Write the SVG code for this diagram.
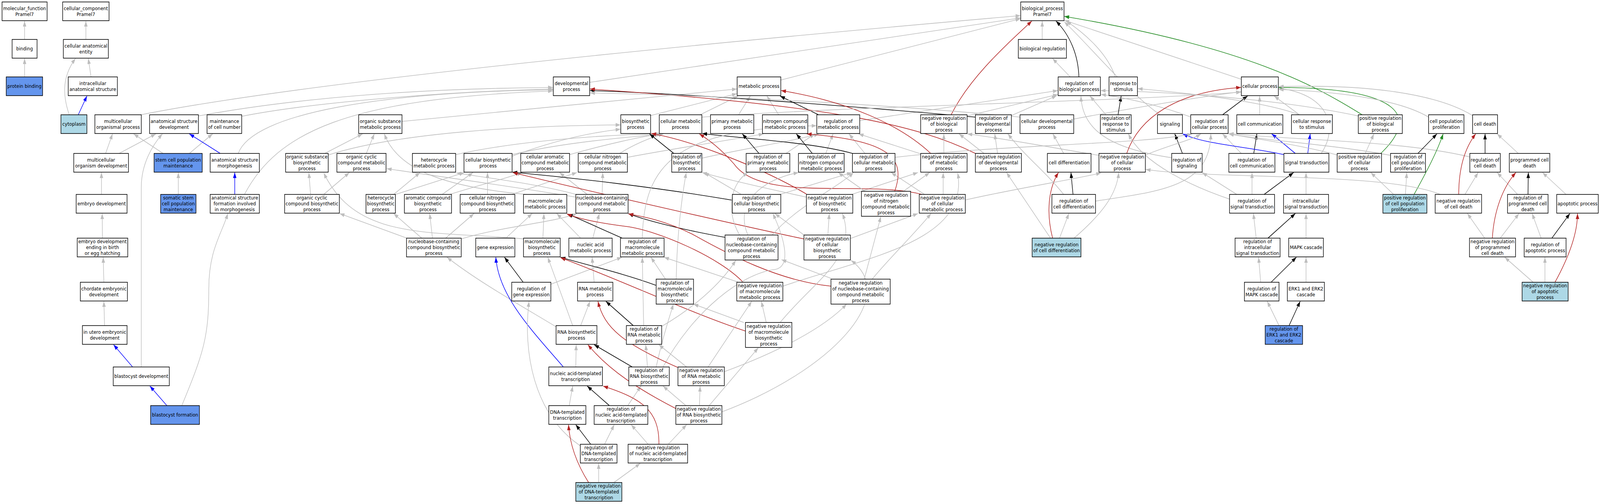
<svg xmlns="http://www.w3.org/2000/svg" width="4621" height="1291" viewBox="0 0 4621 1291" preserveAspectRatio="none">
<style>
svg{width:100vw;height:100vh;display:block}
.n rect{fill:#fff;stroke:#000;stroke-width:1.6}
.n.cb rect{fill:#6495ED}
.n.lb rect{fill:#ADD8E6}
.n text{font-family:"DejaVu Sans","Liberation Sans",sans-serif;font-size:13px;text-anchor:middle;fill:#000}
#edges path{fill:none;stroke-width:1.6}
.g{stroke:#BEBEBE;marker-end:url(#ag)}
.k{stroke:#000;marker-end:url(#ak)}
.r{stroke:#B22222;marker-end:url(#ar)}
.v{stroke:#228B22;marker-end:url(#av)}
.b{stroke:#0000FF;marker-end:url(#ab)}
</style>
<defs>
<marker id="ag" markerUnits="userSpaceOnUse" markerWidth="14" markerHeight="10" refX="14" refY="5" orient="auto"><path d="M0,0 L14,5 L0,10 z" fill="#BEBEBE"/></marker>
<marker id="ak" markerUnits="userSpaceOnUse" markerWidth="14" markerHeight="10" refX="14" refY="5" orient="auto"><path d="M0,0 L14,5 L0,10 z" fill="#000"/></marker>
<marker id="ar" markerUnits="userSpaceOnUse" markerWidth="14" markerHeight="10" refX="14" refY="5" orient="auto"><path d="M0,0 L14,5 L0,10 z" fill="#B22222"/></marker>
<marker id="av" markerUnits="userSpaceOnUse" markerWidth="14" markerHeight="10" refX="14" refY="5" orient="auto"><path d="M0,0 L14,5 L0,10 z" fill="#228B22"/></marker>
<marker id="ab" markerUnits="userSpaceOnUse" markerWidth="14" markerHeight="10" refX="14" refY="5" orient="auto"><path d="M0,0 L14,5 L0,10 z" fill="#0000FF"/></marker>
</defs>
<rect width="4621" height="1291" fill="#fff"/>
<g id="edges">
<path class="g" d="M71 101 L71 54"/>
<path class="g" d="M71 197 L71 150"/>
<path class="g" d="M248 101 L248 54"/>
<path class="g" d="M263 197 L255 150"/>
<path class="g" d="M200 294 C183 250 176 200 218 150"/>
<path class="b" d="M226 294 L251 246"/>
<path class="g" d="M407 294 Q1000 190 2947 40"/>
<path class="g" d="M573 297 Q1000 228 1597 224"/>
<path class="g" d="M698 298 C900 262 1300 234 1597 228"/>
<path class="g" d="M688 393 C730 290 1100 236 1597 230"/>
<path class="g" d="M706 498 C800 340 1000 252 1597 233"/>
<path class="g" d="M305 393 L325 343"/>
<path class="g" d="M344 393 L450 343"/>
<path class="g" d="M471 393 L386 343"/>
<path class="g" d="M547 393 L614 343"/>
<path class="b" d="M636 393 L547 343"/>
<path class="g" d="M515 498 L515 442"/>
<path class="b" d="M678 498 L678 442"/>
<path class="g" d="M293 498 L293 442"/>
<path class="g" d="M296 610 L295 547"/>
<path class="g" d="M300 723 L298 659"/>
<path class="g" d="M302 834 L300 772"/>
<path class="b" d="M383 940 L328 883"/>
<path class="g" d="M408 940 L408 480 C408 420 440 372 469 343"/>
<path class="b" d="M482 1039 L433 989"/>
<path class="g" d="M525 1039 C590 900 603 860 603 740 C603 640 640 600 658 547"/>
<path class="g" d="M1703 211 L2947 46"/>
<path class="g" d="M2255 205 L2947 48"/>
<path class="g" d="M3010 101 L3010 54"/>
<path class="k" d="M3116 197 C3114 140 3090 90 3050 54"/>
<path class="g" d="M3091 197 L3040 150"/>
<path class="g" d="M3221 197 C3200 140 3140 90 3080 54"/>
<path class="g" d="M3585 203 L3074 52"/>
<path class="v" d="M3934 294 C3800 220 3600 120 3074 42"/>
<path class="r" d="M2747 294 C2800 200 2900 120 2980 54"/>
<path class="g" d="M3350 294 C3250 230 3150 120 3074 56"/>
<path class="g" d="M1161 311 L2128 228"/>
<path class="g" d="M1879 296 L2128 240"/>
<path class="g" d="M2022 294 L2132 246"/>
<path class="g" d="M2133 294 L2167 246"/>
<path class="g" d="M2249 294 L2215 246"/>
<path class="k" d="M2364 294 L2253 246"/>
<path class="g" d="M2484 309 L3055 232"/>
<path class="g" d="M2793 297 L3055 242"/>
<path class="k" d="M2817 300 C2500 275 2000 240 1704 232"/>
<path class="g" d="M2921 296 L3052 245"/>
<path class="r" d="M2817 393 C2650 320 2400 270 1704 228"/>
<path class="g" d="M2881 393 L2873 343"/>
<path class="g" d="M2842 393 L2770 343"/>
<path class="g" d="M2946 300 C2600 270 2100 245 1704 238"/>
<path class="g" d="M3101 305 C3250 280 3450 250 3584 235"/>
<path class="k" d="M3229 294 L3238 246"/>
<path class="g" d="M3194 294 L3148 246"/>
<path class="g" d="M3753 294 C3650 260 3450 240 3286 227"/>
<path class="g" d="M3753 294 L3680 246"/>
<path class="g" d="M3638 294 L3638 246"/>
<path class="k" d="M3531 294 L3603 246"/>
<path class="g" d="M3440 300 C3350 270 3250 250 3180 242"/>
<path class="k" d="M3415 393 L3393 343"/>
<path class="g" d="M3384 404 C3200 380 3125 330 3122 246"/>
<path class="k" d="M3621 393 L3630 343"/>
<path class="g" d="M3585 393 L3531 343"/>
<path class="b" d="M3708 396 C3600 375 3480 370 3416 343"/>
<path class="b" d="M3741 393 L3673 343"/>
<path class="b" d="M3777 393 L3784 343"/>
<path class="g" d="M3816 393 C3870 320 3830 240 3693 226"/>
<path class="v" d="M3988 393 C4120 280 4000 225 3693 224"/>
<path class="g" d="M3943 393 L3968 343"/>
<path class="g" d="M3862 397 C3750 370 3620 355 3549 343"/>
<path class="g" d="M4016 398 C3850 370 3650 360 3549 343"/>
<path class="g" d="M4245 402 C4050 360 3750 360 3549 342"/>
<path class="k" d="M4095 393 L4150 343"/>
<path class="g" d="M4126 300 C4050 260 3900 236 3693 229"/>
<path class="g" d="M4253 296 C4150 240 3950 215 3693 222"/>
<path class="g" d="M3923 297 C3700 255 3400 235 3179 232"/>
<path class="v" d="M4084 498 C4120 440 4150 390 4168 343"/>
<path class="g" d="M4059 498 L4063 442"/>
<path class="g" d="M4025 498 L3959 442"/>
<path class="k" d="M4289 393 L4289 343"/>
<path class="g" d="M4385 393 L4324 343"/>
<path class="r" d="M4213 498 C4213 430 4230 380 4262 343"/>
<path class="g" d="M4231 498 L4269 442"/>
<path class="g" d="M4160 498 C4000 440 3500 460 3309 434"/>
<path class="k" d="M4413 498 L4414 442"/>
<path class="g" d="M4383 498 L4324 442"/>
<path class="g" d="M4523 498 L4455 442"/>
<path class="r" d="M4310 610 C4315 540 4340 480 4378 442"/>
<path class="g" d="M4333 610 L4387 547"/>
<path class="g" d="M4288 610 L4238 547"/>
<path class="k" d="M4482 610 L4534 547"/>
<path class="g" d="M4451 610 L4425 547"/>
<path class="r" d="M4491 723 C4530 660 4556 600 4556 547"/>
<path class="g" d="M4462 723 L4462 659"/>
<path class="g" d="M4428 723 L4346 659"/>
<path class="k" d="M3651 498 L3736 442"/>
<path class="g" d="M3616 498 L3616 442"/>
<path class="g" d="M3572 498 L3472 442"/>
<path class="g" d="M3551 510 C3450 480 3300 420 3259 343"/>
<path class="g" d="M3772 498 L3772 442"/>
<path class="k" d="M3662 610 L3741 547"/>
<path class="g" d="M3628 610 L3620 547"/>
<path class="g" d="M3772 610 L3772 547"/>
<path class="k" d="M3671 723 L3744 659"/>
<path class="g" d="M3641 723 L3635 659"/>
<path class="g" d="M3772 723 L3772 659"/>
<path class="k" d="M3723 834 L3755 772"/>
<path class="g" d="M3694 834 L3660 772"/>
<path class="g" d="M3072 393 L3041 343"/>
<path class="k" d="M3099 498 L3093 442"/>
<path class="g" d="M3164 515 C3350 490 3495 480 3497 343"/>
<path class="g" d="M3072 498 C3020 440 2960 400 2911 343"/>
<path class="r" d="M3040 610 C3020 540 3030 480 3057 442"/>
<path class="g" d="M3060 610 L3087 547"/>
<path class="g" d="M3034 610 L2907 442"/>
<path class="g" d="M3102 610 C3180 550 3225 500 3231 442"/>
<path class="r" d="M3254 393 C3290 300 3400 235 3584 224"/>
<path class="g" d="M3300 400 C3380 370 3440 360 3468 343"/>
<path class="g" d="M3174 398 C3050 380 2900 355 2794 343"/>
<path class="g" d="M938 393 L1047 343"/>
<path class="g" d="M948 397 C1150 340 1500 322 1792 320"/>
<path class="g" d="M1058 393 L1081 343"/>
<path class="g" d="M1520 498 C1300 480 1150 440 1110 343"/>
<path class="g" d="M897 498 L892 442"/>
<path class="g" d="M935 498 L1009 442"/>
<path class="g" d="M1316 396 C1500 360 1750 345 1906 343"/>
<path class="g" d="M1479 396 C1650 360 1850 350 1912 343"/>
<path class="g" d="M1479 400 C1600 360 1700 340 1792 331"/>
<path class="g" d="M1645 396 C1750 370 1850 350 1908 343"/>
<path class="g" d="M1790 393 C1830 370 1880 352 1916 343"/>
<path class="g" d="M1812 403 C1950 380 2100 360 2205 343"/>
<path class="g" d="M1137 498 L1213 442"/>
<path class="g" d="M1142 498 L1341 442"/>
<path class="g" d="M1277 498 L1366 442"/>
<path class="g" d="M1299 498 C1400 470 1470 455 1508 442"/>
<path class="g" d="M1408 498 L1408 442"/>
<path class="g" d="M1478 498 L1666 442"/>
<path class="g" d="M1739 498 L1741 442"/>
<path class="g" d="M1696 498 L1616 442"/>
<path class="g" d="M1672 500 C1550 470 1400 455 1318 443"/>
<path class="g" d="M1663 505 C1500 480 1250 450 1117 432"/>
<path class="g" d="M1712 610 L1731 547"/>
<path class="g" d="M1677 610 L1608 547"/>
<path class="g" d="M1332 612 C1450 580 1600 570 1666 547"/>
<path class="g" d="M1218 610 L1137 547"/>
<path class="g" d="M1249 610 L1241 547"/>
<path class="g" d="M1287 610 L1369 547"/>
<path class="g" d="M1175 610 L981 547"/>
<path class="g" d="M1568 610 L1571 547"/>
<path class="g" d="M1514 612 C1250 590 1030 620 935 443"/>
<path class="g" d="M1461 610 L1537 547"/>
<path class="k" d="M1946 393 L1876 343"/>
<path class="g" d="M2028 405 C2150 380 2300 360 2365 343"/>
<path class="k" d="M2192 393 L2144 343"/>
<path class="g" d="M2270 393 L2353 343"/>
<path class="k" d="M2346 393 L2300 343"/>
<path class="g" d="M2385 393 L2406 343"/>
<path class="k" d="M2462 393 C2350 365 2150 355 2028 342"/>
<path class="g" d="M2498 393 L2452 343"/>
<path class="g" d="M2585 403 C2900 370 3300 370 3443 343"/>
<path class="g" d="M2659 394 L2480 343"/>
<path class="r" d="M2688 393 C2600 320 2450 260 2256 232"/>
<path class="g" d="M2726 393 L2726 343"/>
<path class="r" d="M2329 497 C2200 430 2000 360 1881 342"/>
<path class="g" d="M2329 505 C2200 480 2100 460 2028 442"/>
<path class="g" d="M2460 498 L2651 442"/>
<path class="k" d="M2116 513 C1900 480 1650 455 1480 441"/>
<path class="g" d="M2141 498 L2034 442"/>
<path class="g" d="M2253 498 L2460 442"/>
<path class="g" d="M2322 602 L2238 547"/>
<path class="g" d="M2391 602 L2395 547"/>
<path class="g" d="M2456 611 L2651 547"/>
<path class="r" d="M2322 612 C2200 590 1700 490 1481 442"/>
<path class="r" d="M2663 498 C2500 460 2200 520 2120 420 C2080 380 2050 360 2020 343"/>
<path class="g" d="M2670 498 L2574 442"/>
<path class="g" d="M2724 498 L2724 442"/>
<path class="r" d="M2584 490 C2620 400 2560 360 2330 343"/>
<path class="g" d="M2498 490 L2421 442"/>
<path class="g" d="M2609 490 L2685 442"/>
<path class="k" d="M2094 608 C1950 585 1850 560 1815 547"/>
<path class="g" d="M2136 602 C2095 540 2110 470 2160 442"/>
<path class="g" d="M2160 602 C2120 520 2200 460 2306 442"/>
<path class="g" d="M2230 602 C2300 530 2420 480 2465 442"/>
<path class="k" d="M1797 610 L1640 548"/>
<path class="g" d="M1855 610 C1860 420 1950 330 2358 322"/>
<path class="k" d="M1511 723 L1457 659"/>
<path class="g" d="M1591 728 L1796 659"/>
<path class="g" d="M1716 723 L1710 659"/>
<path class="k" d="M1895 731 C1800 700 1700 680 1619 659"/>
<path class="g" d="M1922 715 L1880 659"/>
<path class="g" d="M1953 715 C1955 600 1970 500 1982 442"/>
<path class="r" d="M2146 723 C2080 660 1900 590 1808 580 C1720 570 1670 560 1637 548"/>
<path class="r" d="M2153 848 C1990 800 1800 720 1619 660"/>
<path class="g" d="M2140 725 L1918 659"/>
<path class="g" d="M2261 733 C2500 660 2800 620 2766 443"/>
<path class="r" d="M2400 733 C2250 720 2100 650 2000 600 C1920 565 1860 555 1815 548"/>
<path class="g" d="M2400 713 L2257 665"/>
<path class="g" d="M2519 715 C2570 660 2640 600 2689 547"/>
<path class="g" d="M2496 715 L2544 555"/>
<path class="g" d="M2148 826 L2003 779"/>
<path class="g" d="M2213 826 L2199 772"/>
<path class="g" d="M2253 826 C2350 720 2480 660 2433 547"/>
<path class="k" d="M1829 834 L1750 772"/>
<path class="g" d="M1911 836 C2000 790 2080 730 2125 667"/>
<path class="g" d="M1859 834 L1855 659"/>
<path class="g" d="M1677 834 L1704 772"/>
<path class="g" d="M1654 834 L1582 659"/>
<path class="g" d="M1606 837 C1480 770 1380 720 1291 659"/>
<path class="g" d="M1663 940 L1664 883"/>
<path class="b" d="M1627 940 C1540 850 1440 760 1432 659"/>
<path class="k" d="M1826 940 L1716 883"/>
<path class="g" d="M1870 940 L1865 883"/>
<path class="g" d="M1895 940 C1910 880 1930 820 1945 779"/>
<path class="g" d="M1915 940 C2000 800 2140 700 2240 690 C2290 680 2260 600 2232 547"/>
<path class="r" d="M1957 941 C1800 880 1745 840 1727 772"/>
<path class="g" d="M1983 940 L1903 883"/>
<path class="g" d="M2045 940 L2171 772"/>
<path class="g" d="M2092 952 C2250 900 2380 840 2445 779"/>
<path class="g" d="M1644 1039 L1654 989"/>
<path class="k" d="M1760 1039 L1696 989"/>
<path class="g" d="M1813 1039 L1851 989"/>
<path class="r" d="M1953 1047 C1850 1000 1760 950 1698 883"/>
<path class="g" d="M1981 1039 L1915 989"/>
<path class="g" d="M2020 1039 L2022 989"/>
<path class="g" d="M2048 1039 L2190 891"/>
<path class="g" d="M2085 1055 C2400 950 2600 760 2458 667"/>
<path class="k" d="M1706 1138 L1663 1088"/>
<path class="g" d="M1746 1138 L1774 1088"/>
<path class="g" d="M1676 1142 C1540 1060 1510 900 1528 772"/>
<path class="r" d="M1903 1138 C1905 1050 1850 1020 1742 989"/>
<path class="g" d="M1872 1138 L1823 1088"/>
<path class="g" d="M1930 1138 L1983 1088"/>
<path class="r" d="M1700 1236 C1660 1180 1645 1130 1642 1088"/>
<path class="g" d="M1729 1236 L1729 1187"/>
<path class="g" d="M1773 1236 L1849 1187"/>
<path class="g" d="M2027 300 C2500 270 3200 262 3584 236"/>
<path class="g" d="M2789 512 C2950 480 3100 460 3180 443"/>
</g>
<g id="n1" class="n"><rect x="6" y="5" width="130" height="48"/><text><tspan x="71" y="26">molecular_function</tspan><tspan x="71" y="41">Pramel7</tspan></text></g>
<g id="n2" class="n"><rect x="181" y="5" width="134" height="48"/><text><tspan x="248" y="26">cellular_component</tspan><tspan x="248" y="41">Pramel7</tspan></text></g>
<g id="n3" class="n"><rect x="2948" y="5" width="125" height="48"/><text><tspan x="3010.5" y="26">biological_process</tspan><tspan x="3010.5" y="41">Pramel7</tspan></text></g>
<g id="n4" class="n"><rect x="35" y="101" width="72" height="48"/><text x="71" y="129.5">binding</text></g>
<g id="n5" class="n"><rect x="183" y="101" width="130" height="48"/><text><tspan x="248" y="122">cellular anatomical</tspan><tspan x="248" y="137">entity</tspan></text></g>
<g id="n6" class="n"><rect x="2941" y="101" width="139" height="48"/><text x="3010.5" y="129.5">biological regulation</text></g>
<g id="n7" class="n cb"><rect x="18" y="197" width="105" height="48"/><text x="70.5" y="225.5">protein binding</text></g>
<g id="n8" class="n"><rect x="197" y="197" width="142" height="48"/><text><tspan x="268" y="218">intracellular</tspan><tspan x="268" y="233">anatomical structure</tspan></text></g>
<g id="n9" class="n"><rect x="1598" y="197" width="105" height="48"/><text><tspan x="1650.5" y="218">developmental</tspan><tspan x="1650.5" y="233">process</tspan></text></g>
<g id="n10" class="n"><rect x="2129" y="197" width="126" height="48"/><text x="2192" y="225.5">metabolic process</text></g>
<g id="n11" class="n"><rect x="3056" y="197" width="122" height="48"/><text><tspan x="3117" y="218">regulation of</tspan><tspan x="3117" y="233">biological process</tspan></text></g>
<g id="n12" class="n"><rect x="3203" y="197" width="82" height="48"/><text><tspan x="3244" y="218">response to</tspan><tspan x="3244" y="233">stimulus</tspan></text></g>
<g id="n13" class="n"><rect x="3585" y="197" width="107" height="48"/><text x="3638.5" y="225.5">cellular process</text></g>
<g id="n14" class="n lb"><rect x="176" y="294" width="75" height="48"/><text x="213.5" y="322.5">cytoplasm</text></g>
<g id="n15" class="n"><rect x="274" y="294" width="134" height="48"/><text><tspan x="341" y="315">multicellular</tspan><tspan x="341" y="330">organismal process</tspan></text></g>
<g id="n16" class="n"><rect x="432" y="294" width="141" height="48"/><text><tspan x="502.5" y="315">anatomical structure</tspan><tspan x="502.5" y="330">development</tspan></text></g>
<g id="n17" class="n"><rect x="598" y="294" width="100" height="48"/><text><tspan x="648" y="315">maintenance</tspan><tspan x="648" y="330">of cell number</tspan></text></g>
<g id="n18" class="n"><rect x="1036" y="294" width="125" height="48"/><text><tspan x="1098.5" y="315">organic substance</tspan><tspan x="1098.5" y="330">metabolic process</tspan></text></g>
<g id="n19" class="n"><rect x="1793" y="294" width="86" height="48"/><text><tspan x="1836" y="315">biosynthetic</tspan><tspan x="1836" y="330">process</tspan></text></g>
<g id="n20" class="n"><rect x="1904" y="294" width="123" height="48"/><text><tspan x="1965.5" y="315">cellular metabolic</tspan><tspan x="1965.5" y="330">process</tspan></text></g>
<g id="n21" class="n"><rect x="2052" y="294" width="125" height="48"/><text><tspan x="2114.5" y="315">primary metabolic</tspan><tspan x="2114.5" y="330">process</tspan></text></g>
<g id="n22" class="n"><rect x="2202" y="294" width="131" height="48"/><text><tspan x="2267.5" y="315">nitrogen compound</tspan><tspan x="2267.5" y="330">metabolic process</tspan></text></g>
<g id="n23" class="n"><rect x="2359" y="294" width="124" height="48"/><text><tspan x="2421" y="315">regulation of</tspan><tspan x="2421" y="330">metabolic process</tspan></text></g>
<g id="n24" class="n"><rect x="2659" y="294" width="134" height="48"/><text><tspan x="2726" y="307.5">negative regulation</tspan><tspan x="2726" y="322.5">of biological</tspan><tspan x="2726" y="337.5">process</tspan></text></g>
<g id="n25" class="n"><rect x="2817" y="294" width="104" height="48"/><text><tspan x="2869" y="307.5">regulation of</tspan><tspan x="2869" y="322.5">developmental</tspan><tspan x="2869" y="337.5">process</tspan></text></g>
<g id="n26" class="n"><rect x="2946" y="294" width="155" height="48"/><text><tspan x="3023.5" y="315">cellular developmental</tspan><tspan x="3023.5" y="330">process</tspan></text></g>
<g id="n27" class="n"><rect x="3178" y="294" width="89" height="48"/><text><tspan x="3222.5" y="307.5">regulation of</tspan><tspan x="3222.5" y="322.5">response to</tspan><tspan x="3222.5" y="337.5">stimulus</tspan></text></g>
<g id="n28" class="n"><rect x="3343" y="294" width="72" height="48"/><text x="3379" y="322.5">signaling</text></g>
<g id="n29" class="n"><rect x="3439" y="294" width="108" height="48"/><text><tspan x="3493" y="315">regulation of</tspan><tspan x="3493" y="330">cellular process</tspan></text></g>
<g id="n30" class="n"><rect x="3572" y="294" width="133" height="48"/><text x="3638.5" y="322.5">cell communication</text></g>
<g id="n31" class="n"><rect x="3730" y="294" width="118" height="48"/><text><tspan x="3789" y="315">cellular response</tspan><tspan x="3789" y="330">to stimulus</tspan></text></g>
<g id="n32" class="n"><rect x="3923" y="294" width="127" height="48"/><text><tspan x="3986.5" y="307.5">positive regulation</tspan><tspan x="3986.5" y="322.5">of biological</tspan><tspan x="3986.5" y="337.5">process</tspan></text></g>
<g id="n33" class="n"><rect x="4126" y="294" width="102" height="48"/><text><tspan x="4177" y="315">cell population</tspan><tspan x="4177" y="330">proliferation</tspan></text></g>
<g id="n34" class="n"><rect x="4253" y="294" width="72" height="48"/><text x="4289" y="322.5">cell death</text></g>
<g id="n35" class="n"><rect x="213" y="393" width="158" height="48"/><text><tspan x="292" y="414">multicellular</tspan><tspan x="292" y="429">organism development</tspan></text></g>
<g id="n36" class="n cb"><rect x="445" y="393" width="139" height="48"/><text><tspan x="514.5" y="414">stem cell population</tspan><tspan x="514.5" y="429">maintenance</tspan></text></g>
<g id="n37" class="n"><rect x="607" y="393" width="142" height="48"/><text><tspan x="678" y="414">anatomical structure</tspan><tspan x="678" y="429">morphogenesis</tspan></text></g>
<g id="n38" class="n"><rect x="825" y="393" width="123" height="48"/><text><tspan x="886.5" y="406.5">organic substance</tspan><tspan x="886.5" y="421.5">biosynthetic</tspan><tspan x="886.5" y="436.5">process</tspan></text></g>
<g id="n39" class="n"><rect x="973" y="393" width="142" height="48"/><text><tspan x="1044" y="406.5">organic cyclic</tspan><tspan x="1044" y="421.5">compound metabolic</tspan><tspan x="1044" y="436.5">process</tspan></text></g>
<g id="n40" class="n"><rect x="1191" y="393" width="125" height="48"/><text><tspan x="1253.5" y="414">heterocycle</tspan><tspan x="1253.5" y="429">metabolic process</tspan></text></g>
<g id="n41" class="n"><rect x="1340" y="393" width="139" height="48"/><text><tspan x="1409.5" y="414">cellular biosynthetic</tspan><tspan x="1409.5" y="429">process</tspan></text></g>
<g id="n42" class="n"><rect x="1504" y="393" width="141" height="48"/><text><tspan x="1574.5" y="406.5">cellular aromatic</tspan><tspan x="1574.5" y="421.5">compound metabolic</tspan><tspan x="1574.5" y="436.5">process</tspan></text></g>
<g id="n43" class="n"><rect x="1670" y="393" width="142" height="48"/><text><tspan x="1741" y="406.5">cellular nitrogen</tspan><tspan x="1741" y="421.5">compound metabolic</tspan><tspan x="1741" y="436.5">process</tspan></text></g>
<g id="n44" class="n"><rect x="1940" y="393" width="87" height="48"/><text><tspan x="1983.5" y="406.5">regulation of</tspan><tspan x="1983.5" y="421.5">biosynthetic</tspan><tspan x="1983.5" y="436.5">process</tspan></text></g>
<g id="n45" class="n"><rect x="2155" y="393" width="126" height="48"/><text><tspan x="2218" y="406.5">regulation of</tspan><tspan x="2218" y="421.5">primary metabolic</tspan><tspan x="2218" y="436.5">process</tspan></text></g>
<g id="n46" class="n"><rect x="2306" y="393" width="132" height="48"/><text><tspan x="2372" y="406.5">regulation of</tspan><tspan x="2372" y="421.5">nitrogen compound</tspan><tspan x="2372" y="436.5">metabolic process</tspan></text></g>
<g id="n47" class="n"><rect x="2462" y="393" width="123" height="48"/><text><tspan x="2523.5" y="406.5">regulation of</tspan><tspan x="2523.5" y="421.5">cellular metabolic</tspan><tspan x="2523.5" y="436.5">process</tspan></text></g>
<g id="n48" class="n"><rect x="2659" y="393" width="134" height="48"/><text><tspan x="2726" y="406.5">negative regulation</tspan><tspan x="2726" y="421.5">of metabolic</tspan><tspan x="2726" y="436.5">process</tspan></text></g>
<g id="n49" class="n"><rect x="2817" y="393" width="133" height="48"/><text><tspan x="2883.5" y="406.5">negative regulation</tspan><tspan x="2883.5" y="421.5">of developmental</tspan><tspan x="2883.5" y="436.5">process</tspan></text></g>
<g id="n50" class="n"><rect x="3025" y="393" width="126" height="48"/><text x="3088" y="421.5">cell differentiation</text></g>
<g id="n51" class="n"><rect x="3174" y="393" width="134" height="48"/><text><tspan x="3241" y="406.5">negative regulation</tspan><tspan x="3241" y="421.5">of cellular</tspan><tspan x="3241" y="436.5">process</tspan></text></g>
<g id="n52" class="n"><rect x="3384" y="393" width="88" height="48"/><text><tspan x="3428" y="414">regulation of</tspan><tspan x="3428" y="429">signaling</tspan></text></g>
<g id="n53" class="n"><rect x="3549" y="393" width="133" height="48"/><text><tspan x="3615.5" y="414">regulation of</tspan><tspan x="3615.5" y="429">cell communication</tspan></text></g>
<g id="n54" class="n"><rect x="3708" y="393" width="130" height="48"/><text x="3773" y="421.5">signal transduction</text></g>
<g id="n55" class="n"><rect x="3862" y="393" width="128" height="48"/><text><tspan x="3926" y="406.5">positive regulation</tspan><tspan x="3926" y="421.5">of cellular</tspan><tspan x="3926" y="436.5">process</tspan></text></g>
<g id="n56" class="n"><rect x="4016" y="393" width="101" height="48"/><text><tspan x="4066.5" y="406.5">regulation of</tspan><tspan x="4066.5" y="421.5">cell population</tspan><tspan x="4066.5" y="436.5">proliferation</tspan></text></g>
<g id="n57" class="n"><rect x="4245" y="393" width="88" height="48"/><text><tspan x="4289" y="414">regulation of</tspan><tspan x="4289" y="429">cell death</tspan></text></g>
<g id="n58" class="n"><rect x="4359" y="393" width="117" height="48"/><text><tspan x="4417.5" y="414">programmed cell</tspan><tspan x="4417.5" y="429">death</tspan></text></g>
<g id="n59" class="n"><rect x="220" y="498" width="147" height="48"/><text x="293.5" y="526.5">embryo development</text></g>
<g id="n60" class="n cb"><rect x="464" y="498" width="102" height="48"/><text><tspan x="515" y="511.5">somatic stem</tspan><tspan x="515" y="526.5">cell population</tspan><tspan x="515" y="541.5">maintenance</tspan></text></g>
<g id="n61" class="n"><rect x="607" y="498" width="142" height="48"/><text><tspan x="678" y="511.5">anatomical structure</tspan><tspan x="678" y="526.5">formation involved</tspan><tspan x="678" y="541.5">in morphogenesis</tspan></text></g>
<g id="n62" class="n"><rect x="822" y="498" width="158" height="48"/><text><tspan x="901" y="511.5">organic cyclic</tspan><tspan x="901" y="526.5">compound biosynthetic</tspan><tspan x="901" y="541.5">process</tspan></text></g>
<g id="n63" class="n"><rect x="1057" y="498" width="85" height="48"/><text><tspan x="1099.5" y="511.5">heterocycle</tspan><tspan x="1099.5" y="526.5">biosynthetic</tspan><tspan x="1099.5" y="541.5">process</tspan></text></g>
<g id="n64" class="n"><rect x="1168" y="498" width="136" height="48"/><text><tspan x="1236" y="511.5">aromatic compound</tspan><tspan x="1236" y="526.5">biosynthetic</tspan><tspan x="1236" y="541.5">process</tspan></text></g>
<g id="n65" class="n"><rect x="1329" y="498" width="158" height="48"/><text><tspan x="1408" y="511.5">cellular nitrogen</tspan><tspan x="1408" y="526.5">compound biosynthetic</tspan><tspan x="1408" y="541.5">process</tspan></text></g>
<g id="n66" class="n"><rect x="1512" y="498" width="125" height="48"/><text><tspan x="1574.5" y="519">macromolecule</tspan><tspan x="1574.5" y="534">metabolic process</tspan></text></g>
<g id="n67" class="n"><rect x="1663" y="498" width="151" height="48"/><text><tspan x="1738.5" y="511.5">nucleobase-containing</tspan><tspan x="1738.5" y="526.5">compound metabolic</tspan><tspan x="1738.5" y="541.5">process</tspan></text></g>
<g id="n68" class="n"><rect x="2115" y="498" width="140" height="48"/><text><tspan x="2185" y="511.5">regulation of</tspan><tspan x="2185" y="526.5">cellular biosynthetic</tspan><tspan x="2185" y="541.5">process</tspan></text></g>
<g id="n69" class="n"><rect x="2329" y="498" width="134" height="48"/><text><tspan x="2396" y="511.5">negative regulation</tspan><tspan x="2396" y="526.5">of biosynthetic</tspan><tspan x="2396" y="541.5">process</tspan></text></g>
<g id="n70" class="n"><rect x="2488" y="490" width="142" height="64"/><text><tspan x="2559" y="504">negative regulation</tspan><tspan x="2559" y="519">of nitrogen</tspan><tspan x="2559" y="534">compound metabolic</tspan><tspan x="2559" y="549">process</tspan></text></g>
<g id="n71" class="n"><rect x="2655" y="498" width="133" height="48"/><text><tspan x="2721.5" y="511.5">negative regulation</tspan><tspan x="2721.5" y="526.5">of cellular</tspan><tspan x="2721.5" y="541.5">metabolic process</tspan></text></g>
<g id="n72" class="n"><rect x="3038" y="498" width="126" height="48"/><text><tspan x="3101" y="519">regulation of</tspan><tspan x="3101" y="534">cell differentiation</tspan></text></g>
<g id="n73" class="n"><rect x="3551" y="498" width="130" height="48"/><text><tspan x="3616" y="519">regulation of</tspan><tspan x="3616" y="534">signal transduction</tspan></text></g>
<g id="n74" class="n"><rect x="3707" y="498" width="130" height="48"/><text><tspan x="3772" y="519">intracellular</tspan><tspan x="3772" y="534">signal transduction</tspan></text></g>
<g id="n75" class="n lb"><rect x="3994" y="498" width="127" height="48"/><text><tspan x="4057.5" y="511.5">positive regulation</tspan><tspan x="4057.5" y="526.5">of cell population</tspan><tspan x="4057.5" y="541.5">proliferation</tspan></text></g>
<g id="n76" class="n"><rect x="4145" y="498" width="134" height="48"/><text><tspan x="4212" y="519">negative regulation</tspan><tspan x="4212" y="534">of cell death</tspan></text></g>
<g id="n77" class="n"><rect x="4354" y="498" width="117" height="48"/><text><tspan x="4412.5" y="511.5">regulation of</tspan><tspan x="4412.5" y="526.5">programmed cell</tspan><tspan x="4412.5" y="541.5">death</tspan></text></g>
<g id="n78" class="n"><rect x="4496" y="498" width="120" height="48"/><text x="4556" y="526.5">apoptotic process</text></g>
<g id="n79" class="n"><rect x="223" y="610" width="146" height="48"/><text><tspan x="296" y="623.5">embryo development</tspan><tspan x="296" y="638.5">ending in birth</tspan><tspan x="296" y="653.5">or egg hatching</tspan></text></g>
<g id="n80" class="n"><rect x="1174" y="610" width="158" height="48"/><text><tspan x="1253" y="623.5">nucleobase-containing</tspan><tspan x="1253" y="638.5">compound biosynthetic</tspan><tspan x="1253" y="653.5">process</tspan></text></g>
<g id="n81" class="n"><rect x="1374" y="610" width="113" height="48"/><text x="1430.5" y="638.5">gene expression</text></g>
<g id="n82" class="n"><rect x="1512" y="610" width="106" height="48"/><text><tspan x="1565" y="623.5">macromolecule</tspan><tspan x="1565" y="638.5">biosynthetic</tspan><tspan x="1565" y="653.5">process</tspan></text></g>
<g id="n83" class="n"><rect x="1643" y="610" width="125" height="48"/><text><tspan x="1705.5" y="631">nucleic acid</tspan><tspan x="1705.5" y="646">metabolic process</tspan></text></g>
<g id="n84" class="n"><rect x="1792" y="610" width="126" height="48"/><text><tspan x="1855" y="623.5">regulation of</tspan><tspan x="1855" y="638.5">macromolecule</tspan><tspan x="1855" y="653.5">metabolic process</tspan></text></g>
<g id="n85" class="n"><rect x="2094" y="602" width="153" height="64"/><text><tspan x="2170.5" y="616">regulation of</tspan><tspan x="2170.5" y="631">nucleobase-containing</tspan><tspan x="2170.5" y="646">compound metabolic</tspan><tspan x="2170.5" y="661">process</tspan></text></g>
<g id="n86" class="n"><rect x="2322" y="602" width="134" height="64"/><text><tspan x="2389" y="616">negative regulation</tspan><tspan x="2389" y="631">of cellular</tspan><tspan x="2389" y="646">biosynthetic</tspan><tspan x="2389" y="661">process</tspan></text></g>
<g id="n87" class="n lb"><rect x="2981" y="610" width="141" height="48"/><text><tspan x="3051.5" y="631">negative regulation</tspan><tspan x="3051.5" y="646">of cell differentiation</tspan></text></g>
<g id="n88" class="n"><rect x="3567" y="610" width="130" height="48"/><text><tspan x="3632" y="623.5">regulation of</tspan><tspan x="3632" y="638.5">intracellular</tspan><tspan x="3632" y="653.5">signal transduction</tspan></text></g>
<g id="n89" class="n"><rect x="3722" y="610" width="100" height="48"/><text x="3772" y="638.5">MAPK cascade</text></g>
<g id="n90" class="n"><rect x="4244" y="610" width="133" height="48"/><text><tspan x="4310.5" y="623.5">negative regulation</tspan><tspan x="4310.5" y="638.5">of programmed</tspan><tspan x="4310.5" y="653.5">cell death</tspan></text></g>
<g id="n91" class="n"><rect x="4402" y="610" width="121" height="48"/><text><tspan x="4462.5" y="631">regulation of</tspan><tspan x="4462.5" y="646">apoptotic process</tspan></text></g>
<g id="n92" class="n"><rect x="232" y="723" width="136" height="48"/><text><tspan x="300" y="744">chordate embryonic</tspan><tspan x="300" y="759">development</tspan></text></g>
<g id="n93" class="n"><rect x="1478" y="723" width="113" height="48"/><text><tspan x="1534.5" y="744">regulation of</tspan><tspan x="1534.5" y="759">gene expression</tspan></text></g>
<g id="n94" class="n"><rect x="1668" y="723" width="102" height="48"/><text><tspan x="1719" y="744">RNA metabolic</tspan><tspan x="1719" y="759">process</tspan></text></g>
<g id="n95" class="n"><rect x="1895" y="715" width="108" height="64"/><text><tspan x="1949" y="729">regulation of</tspan><tspan x="1949" y="744">macromolecule</tspan><tspan x="1949" y="759">biosynthetic</tspan><tspan x="1949" y="774">process</tspan></text></g>
<g id="n96" class="n"><rect x="2128" y="723" width="133" height="48"/><text><tspan x="2194.5" y="736.5">negative regulation</tspan><tspan x="2194.5" y="751.5">of macromolecule</tspan><tspan x="2194.5" y="766.5">metabolic process</tspan></text></g>
<g id="n97" class="n"><rect x="2400" y="715" width="171" height="64"/><text><tspan x="2485.5" y="729">negative regulation</tspan><tspan x="2485.5" y="744">of nucleobase-containing</tspan><tspan x="2485.5" y="759">compound metabolic</tspan><tspan x="2485.5" y="774">process</tspan></text></g>
<g id="n98" class="n"><rect x="3594" y="723" width="100" height="48"/><text><tspan x="3644" y="744">regulation of</tspan><tspan x="3644" y="759">MAPK cascade</tspan></text></g>
<g id="n99" class="n"><rect x="3718" y="723" width="107" height="48"/><text><tspan x="3771.5" y="744">ERK1 and ERK2</tspan><tspan x="3771.5" y="759">cascade</tspan></text></g>
<g id="n100" class="n lb"><rect x="4396" y="723" width="133" height="48"/><text><tspan x="4462.5" y="736.5">negative regulation</tspan><tspan x="4462.5" y="751.5">of apoptotic</tspan><tspan x="4462.5" y="766.5">process</tspan></text></g>
<g id="n101" class="n"><rect x="238" y="834" width="129" height="48"/><text><tspan x="302.5" y="855">in utero embryonic</tspan><tspan x="302.5" y="870">development</tspan></text></g>
<g id="n102" class="n"><rect x="1606" y="834" width="118" height="48"/><text><tspan x="1665" y="855">RNA biosynthetic</tspan><tspan x="1665" y="870">process</tspan></text></g>
<g id="n103" class="n"><rect x="1809" y="834" width="102" height="48"/><text><tspan x="1860" y="847.5">regulation of</tspan><tspan x="1860" y="862.5">RNA metabolic</tspan><tspan x="1860" y="877.5">process</tspan></text></g>
<g id="n104" class="n"><rect x="2153" y="826" width="134" height="64"/><text><tspan x="2220" y="840">negative regulation</tspan><tspan x="2220" y="855">of macromolecule</tspan><tspan x="2220" y="870">biosynthetic</tspan><tspan x="2220" y="885">process</tspan></text></g>
<g id="n105" class="n cb"><rect x="3654" y="834" width="108" height="48"/><text><tspan x="3708" y="847.5">regulation of</tspan><tspan x="3708" y="862.5">ERK1 and ERK2</tspan><tspan x="3708" y="877.5">cascade</tspan></text></g>
<g id="n106" class="n"><rect x="327" y="940" width="162" height="48"/><text x="408" y="968.5">blastocyst development</text></g>
<g id="n107" class="n"><rect x="1585" y="940" width="155" height="48"/><text><tspan x="1662.5" y="961">nucleic acid-templated</tspan><tspan x="1662.5" y="976">transcription</tspan></text></g>
<g id="n108" class="n"><rect x="1816" y="940" width="117" height="48"/><text><tspan x="1874.5" y="953.5">regulation of</tspan><tspan x="1874.5" y="968.5">RNA biosynthetic</tspan><tspan x="1874.5" y="983.5">process</tspan></text></g>
<g id="n109" class="n"><rect x="1958" y="940" width="134" height="48"/><text><tspan x="2025" y="953.5">negative regulation</tspan><tspan x="2025" y="968.5">of RNA metabolic</tspan><tspan x="2025" y="983.5">process</tspan></text></g>
<g id="n110" class="n cb"><rect x="435" y="1039" width="141" height="48"/><text x="505.5" y="1067.5">blastocyst formation</text></g>
<g id="n111" class="n"><rect x="1585" y="1039" width="107" height="48"/><text><tspan x="1638.5" y="1060">DNA-templated</tspan><tspan x="1638.5" y="1075">transcription</tspan></text></g>
<g id="n112" class="n"><rect x="1716" y="1039" width="155" height="48"/><text><tspan x="1793.5" y="1052.5">regulation of</tspan><tspan x="1793.5" y="1067.5">nucleic acid-templated</tspan><tspan x="1793.5" y="1082.5">transcription</tspan></text></g>
<g id="n113" class="n"><rect x="1952" y="1039" width="133" height="48"/><text><tspan x="2018.5" y="1052.5">negative regulation</tspan><tspan x="2018.5" y="1067.5">of RNA biosynthetic</tspan><tspan x="2018.5" y="1082.5">process</tspan></text></g>
<g id="n114" class="n"><rect x="1676" y="1138" width="106" height="48"/><text><tspan x="1729" y="1151.5">regulation of</tspan><tspan x="1729" y="1166.5">DNA-templated</tspan><tspan x="1729" y="1181.5">transcription</tspan></text></g>
<g id="n115" class="n"><rect x="1814" y="1138" width="172" height="48"/><text><tspan x="1900" y="1151.5">negative regulation</tspan><tspan x="1900" y="1166.5">of nucleic acid-templated</tspan><tspan x="1900" y="1181.5">transcription</tspan></text></g>
<g id="n116" class="n lb"><rect x="1663" y="1236" width="133" height="48"/><text><tspan x="1729.5" y="1249.5">negative regulation</tspan><tspan x="1729.5" y="1264.5">of DNA-templated</tspan><tspan x="1729.5" y="1279.5">transcription</tspan></text></g>
</svg>
